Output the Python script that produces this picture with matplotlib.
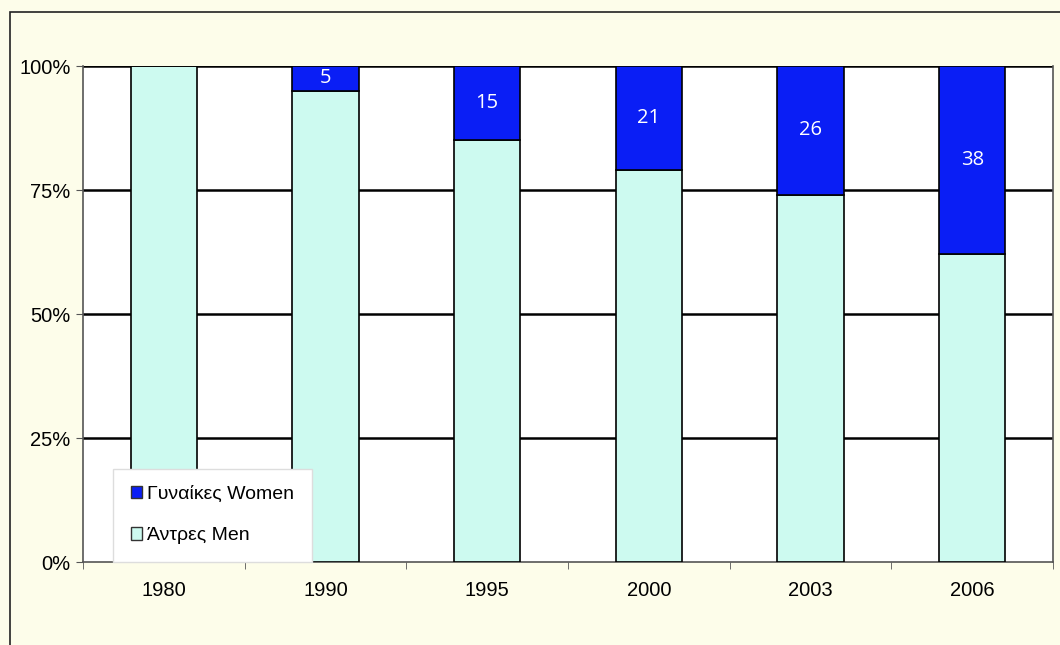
import matplotlib.pyplot as plt
from matplotlib.patches import Rectangle, Patch
from matplotlib.ticker import FixedLocator, PercentFormatter

years = ['1980', '1990', '1995', '2000', '2003', '2006']
women = [0, 5, 15, 21, 26, 38]
men = [100 - w for w in women]

BLUE = '#0A1EF5'
CYAN = '#CDFAF0'
BG = '#FDFDEA'

plt.rcParams['font.family'] = ['Liberation Sans', 'DejaVu Sans']

fig = plt.figure(figsize=(10.6, 6.45), dpi=100)
fig.patch.set_facecolor(BG)
fig.patches.append(Rectangle((10 / 1060, -0.1), 1.2, 1 - 12 / 645 + 0.1,
                             transform=fig.transFigure, fill=False,
                             edgecolor='#222222', lw=1.2, zorder=0))

ax = fig.add_axes([83 / 1060, 1 - 562 / 645, 970 / 1060, 496 / 645])
ax.set_facecolor('white')

x = list(range(len(years)))
ax.bar(x, men, width=0.41, color=CYAN, edgecolor='black', lw=1.2, zorder=3)
ax.bar(x, women, bottom=men, width=0.41, color=BLUE, edgecolor='black',
       lw=1.2, zorder=3)

for xi, m, w in zip(x, men, women):
    if w > 0:
        ax.text(xi, m + w / 2, str(w), ha='center', va='center',
                color='white', fontsize=14.5, family=['Open Sans', 'DejaVu Sans'],
                zorder=4)

ax.set_xlim(-0.5, len(years) - 0.5)
ax.set_ylim(0, 100)
ax.set_yticks([0, 25, 50, 75, 100])
ax.yaxis.set_major_formatter(PercentFormatter(decimals=0))
for yv in [25, 50, 75, 100]:
    ax.axhline(yv, color='black', lw=1.8, zorder=1)

ax.set_xticks(x)
ax.set_xticklabels(years)
ax.xaxis.set_minor_locator(FixedLocator([i + 0.5 for i in range(-1, len(years))]))
ax.tick_params(axis='x', which='major', length=0, pad=14, labelsize=14.5)
ax.tick_params(axis='x', which='minor', length=5, color='#555555')
ax.tick_params(axis='y', length=5, color='#555555', labelsize=14.5, pad=4)

for side in ['left', 'right', 'bottom']:
    ax.spines[side].set_color('#555555')
    ax.spines[side].set_linewidth(1.2)
ax.spines['top'].set_visible(False)

handles = [Patch(facecolor=BLUE, edgecolor='#333333', label='Γυναίκες Women'),
           Patch(facecolor=CYAN, edgecolor='#333333', label='Άντρες Men')]
leg = ax.legend(handles=handles, loc='lower left',
                bbox_to_anchor=(30 / 970, 0.0), fontsize=14,
                handlelength=0.6, handleheight=0.6, handletextpad=0.25,
                labelspacing=1.25, borderpad=0.9, borderaxespad=0,
                fancybox=False, framealpha=1, edgecolor='#dddddd')
leg.set_zorder(5)

fig.savefig('out.png', dpi=100, facecolor=BG)
